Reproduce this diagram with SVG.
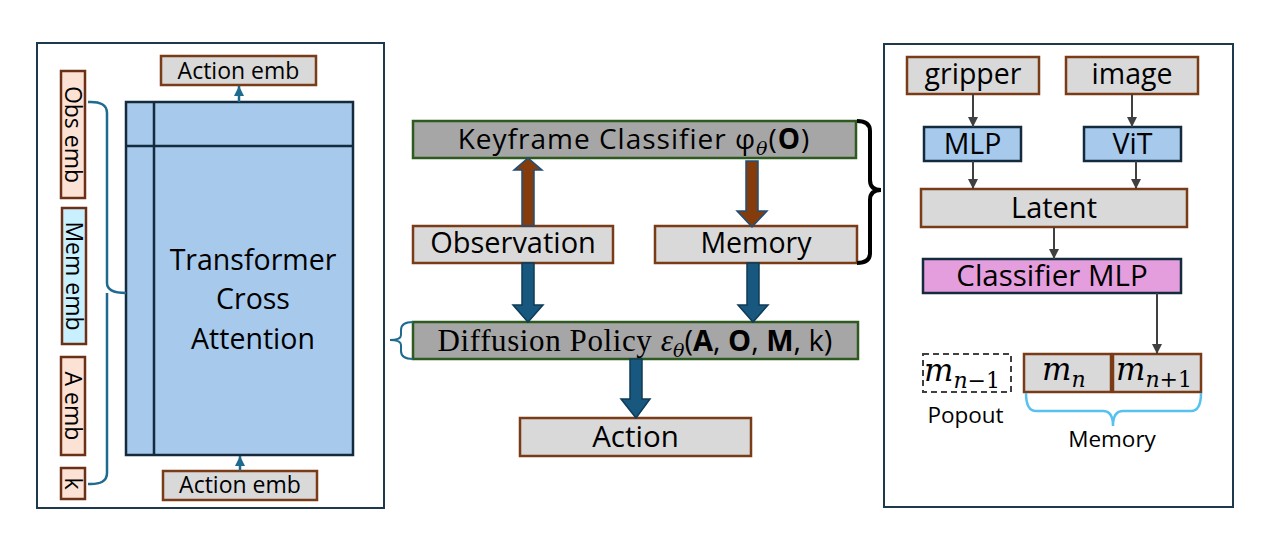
<svg xmlns="http://www.w3.org/2000/svg" width="1268" height="544" viewBox="0 0 1268 544">
<style>
text{font-family:"Open Sans","Liberation Sans",sans-serif;fill:#000}
.panel{fill:#fff;stroke:#1c3a4c;stroke-width:2}
.tf{fill:#a6c9ec;stroke:#132b3c;stroke-width:2.5}
.peach{fill:#fbe2d5;stroke:#6b3015;stroke-width:2.5}
.cyan{fill:#c9f0ff;stroke:#6b3015;stroke-width:2.5}
.lg{fill:#d9d9d9;stroke:#7a3b17;stroke-width:2.5}
.dg{fill:#a6a6a6;stroke:#2d5a1f;stroke-width:2.5}
.bl{fill:#a6c9ec;stroke:#132b3c;stroke-width:2.5}
.pk{fill:#e59edd;stroke:#132b3c;stroke-width:2.5}
.dash{fill:#fff;stroke:#404040;stroke-width:2;stroke-dasharray:6 4}
.c{text-anchor:middle}
.ba{fill:#18587e;stroke:#0e3b57;stroke-width:1.5}
.br{fill:#843c0c;stroke:#1f4e79;stroke-width:1.5}
.gl{stroke:#404040;stroke-width:2;fill:none;marker-end:url(#ag)}
.tl{stroke:#1f6a8f;stroke-width:2.5;fill:none;marker-end:url(#at)}
.math{font-family:"DejaVu Serif","Liberation Serif",serif;font-style:italic}
</style>
<defs>
<marker id="ag" viewBox="0 0 10 10" refX="10" refY="5" markerWidth="5" markerHeight="5" markerUnits="strokeWidth" orient="auto"><path d="M0,0 L10,5 L0,10 z" fill="#404040"/></marker>
<marker id="at" viewBox="0 0 10 10" refX="10" refY="5" markerWidth="4" markerHeight="4" markerUnits="strokeWidth" orient="auto"><path d="M0,0 L10,5 L0,10 z" fill="#1f6a8f"/></marker>
</defs>

<g id="left-panel">
<rect class="panel" x="37" y="43" width="347" height="465"/>
</g>
<g id="transformer">
<rect class="tf" x="126" y="102" width="227" height="353"/>
<line x1="154" y1="102" x2="154" y2="455" stroke="#132b3c" stroke-width="2.5"/>
<line x1="126" y1="146" x2="353" y2="146" stroke="#132b3c" stroke-width="2.5"/>
<text class="c" x="253" y="270" font-size="28.5">Transformer</text>
<text class="c" x="253" y="309" font-size="28.5">Cross</text>
<text class="c" x="253" y="349" font-size="28.5">Attention</text>
</g>
<g id="action-emb-top">
<rect class="lg" x="161" y="56" width="155" height="29"/>
<text class="c" x="238.5" y="79" font-size="23">Action emb</text>
</g>
<g id="action-emb-bottom">
<rect class="lg" x="163" y="471" width="154" height="29"/>
<text class="c" x="240" y="493" font-size="23">Action emb</text>
</g>
<g id="obs-emb">
<rect class="peach" x="61" y="71" width="24" height="127"/>
<text class="c" transform="translate(64.5,134.5) rotate(90)" font-size="23">Obs emb</text>
</g>
<g id="mem-emb">
<rect class="cyan" x="62" y="208" width="24" height="136"/>
<text class="c" transform="translate(65.5,276) rotate(90)" font-size="23">Mem emb</text>
</g>
<g id="a-emb">
<rect class="peach" x="61" y="357" width="24" height="98"/>
<text class="c" transform="translate(64.5,406) rotate(90)" font-size="23">A emb</text>
</g>
<g id="k">
<rect class="peach" x="61" y="468" width="24" height="31"/>
<text class="c" transform="translate(64.5,483.5) rotate(90)" font-size="23">k</text>
</g>

<g id="keyframe">
<rect class="dg" x="413" y="121" width="443" height="37"/>
<text class="c" x="634" y="149" font-size="28" letter-spacing="1">Keyframe Classifier φ<tspan class="math" font-size="19" dy="6">θ</tspan><tspan dy="-6">(</tspan><tspan font-weight="bold">O</tspan>)</text>
</g>
<g id="observation">
<rect class="lg" x="413" y="226" width="200" height="37"/>
<text class="c" x="513" y="253" font-size="29">Observation</text>
</g>
<g id="memory">
<rect class="lg" x="655" y="226" width="202" height="37"/>
<text class="c" x="756" y="253" font-size="28.5">Memory</text>
</g>
<g id="diffusion">
<rect class="dg" x="413" y="322" width="445" height="37"/>
<text class="c" x="635" y="351" font-size="29"><tspan font-family="Liberation Serif, serif" font-size="31" letter-spacing="0.6">Diffusion Policy </tspan><tspan font-family="Liberation Serif, serif" font-style="italic" font-size="31">ε</tspan><tspan class="math" font-size="19" dy="6">θ</tspan><tspan dy="-6">(</tspan><tspan font-weight="bold">A</tspan><tspan>, </tspan><tspan font-weight="bold">O</tspan><tspan>, </tspan><tspan font-weight="bold">M</tspan><tspan>, k)</tspan></text>
</g>
<g id="action">
<rect class="lg" x="520" y="418" width="231" height="38"/>
<text class="c" x="635.5" y="447" font-size="29.5">Action</text>
</g>

<g id="right-panel">
<rect class="panel" x="884" y="44" width="349" height="463"/>
</g>
<g id="gripper">
<rect class="lg" x="907" y="57" width="132" height="37"/>
<text class="c" x="973" y="84" font-size="28.5">gripper</text>
</g>
<g id="image">
<rect class="lg" x="1066" y="57" width="132" height="37"/>
<text class="c" x="1132" y="84" font-size="28.5">image</text>
</g>
<g id="mlp">
<rect class="bl" x="924" y="127" width="97" height="34"/>
<text class="c" x="972.5" y="154" font-size="28.5">MLP</text>
</g>
<g id="vit">
<rect class="bl" x="1084" y="127" width="97" height="34"/>
<text class="c" x="1132.5" y="154" font-size="28.5">ViT</text>
</g>
<g id="latent">
<rect class="lg" x="921" y="189" width="266" height="38"/>
<text class="c" x="1054" y="218" font-size="29">Latent</text>
</g>
<g id="classifier-mlp">
<rect class="pk" x="923" y="259" width="258" height="34"/>
<text class="c" x="1052" y="286" font-size="29.5">Classifier MLP</text>
</g>
<g id="m-n-1">
<rect class="dash" x="923" y="354" width="88" height="38"/>
<text class="math" x="924" y="381" font-size="31">m<tspan font-size="22" dy="7">n</tspan><tspan font-size="22" font-style="normal">−1</tspan></text>
</g>
<g id="m-n">
<rect class="lg" x="1024" y="354" width="87" height="38"/>
<text class="math" x="1042" y="380" font-size="31">m<tspan font-size="22" dy="7">n</tspan></text>
</g>
<g id="m-n1">
<rect class="lg" x="1113" y="354" width="88" height="38"/>
<text class="math" x="1116" y="380" font-size="31">m<tspan font-size="22" dy="7">n</tspan><tspan font-size="22" font-style="normal">+1</tspan></text>
</g>
<g id="labels">
<text class="c" x="965.5" y="423" font-size="22.5">Popout</text>
<text class="c" x="1112" y="447" font-size="22.5">Memory</text>
</g>

<g id="connectors">
<line class="tl" x1="239" y1="102" x2="239" y2="86"/>
<line class="tl" x1="240" y1="471" x2="240" y2="456"/>
<path d="M88,102 Q107,101 107,113 L107,283 Q107,293 126,293 M107,293 Q107,293 107,303 L107,473 Q107,485 88,484" fill="none" stroke="#1f6a8f" stroke-width="2.5"/>
<path d="M413,322 Q401,322 401,330 L401,335 Q401,340 390,340 Q401,340 401,345 L401,351 Q401,359 413,359" fill="none" stroke="#1f6a8f" stroke-width="2"/>
<path d="M857,121 Q870,121 870,131 L870,180 Q870,190 881,190 Q870,190 870,200 L870,253 Q870,263 857,263" fill="none" stroke="#000" stroke-width="4"/>
<polygon class="br" points="522,226 522,170 514,170 528,158 542,170 534,170 534,226"/>
<polygon class="br" points="746,161 758,161 758,211 767,211 752,227 737,211 746,211"/>
<polygon class="ba" points="522,263 534,263 534,305 543,305 528,322 513,305 522,305"/>
<polygon class="ba" points="747,263 759,263 759,305 768,305 753,322 738,305 747,305"/>
<polygon class="ba" points="630,359 642,359 642,399 650,399 636,418 621,399 630,399"/>
<line class="gl" x1="973" y1="94" x2="973" y2="127"/>
<line class="gl" x1="1132" y1="94" x2="1132" y2="127"/>
<line class="gl" x1="973" y1="161" x2="973" y2="189"/>
<line class="gl" x1="1136" y1="161" x2="1136" y2="189"/>
<line class="gl" x1="1054" y1="227" x2="1054" y2="259"/>
<line class="gl" x1="1157" y1="293" x2="1157" y2="354"/>
<path d="M1026,393 Q1026,411 1036,411 L1103,411 Q1113,411 1113,426 Q1113,411 1123,411 L1191,411 Q1201,411 1201,393" fill="none" stroke="#57c2f0" stroke-width="2.5"/>
</g>
</svg>
